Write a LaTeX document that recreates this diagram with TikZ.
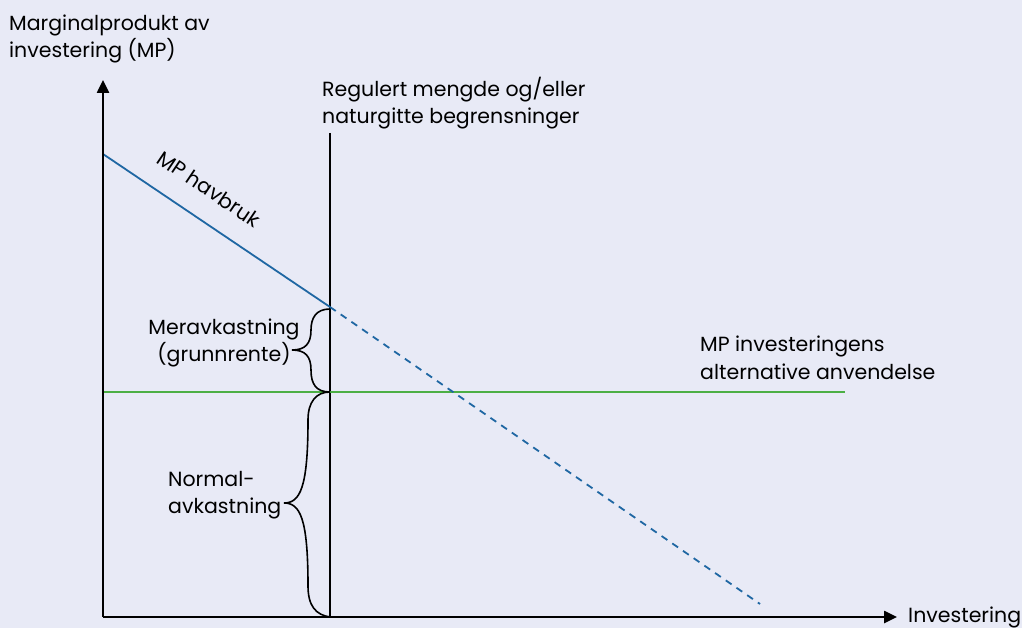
\documentclass[tikz,border=0pt]{standalone}
\usepackage{fontspec}
\setmainfont{Poppins}
\usetikzlibrary{arrows.meta}
\definecolor{bg}{HTML}{E8EAF6}
\definecolor{mpblue}{HTML}{1F67A3}
\definecolor{mpgreen}{HTML}{4CAF45}
\begin{document}
\begin{tikzpicture}[x=1pt,y=-1pt,
  font=\fontsize{20.5}{27.5}\selectfont,
  lbl/.style={align=left,inner sep=0pt,anchor=west},
  axis/.style={line width=2.5pt,-{Triangle[length=13pt,width=12pt]}},
  bracepath/.style={line width=1.6pt},
  limitline/.style={line width=1.5pt},
  mpline/.style={mpblue,line width=1.8pt},
  altline/.style={mpgreen,line width=2.6pt}]
\fill[bg] (0,0) rectangle (1022,628);
\useasboundingbox (0,0) rectangle (1022,628);

\coordinate (O) at (103,617);
\coordinate (ytop) at (103,80);
\coordinate (xend) at (897,617);
\coordinate (ltop) at (330,133);
\coordinate (lbot) at (330,617);
\coordinate (mpstart) at (103,154);
\coordinate (mpcut) at (330,307);
\coordinate (mpend) at (760,604);
\coordinate (altstart) at (103,392);
\coordinate (altend) at (845,392);
\coordinate (cross) at (330,392);

% lines
\draw[limitline] (ltop) -- (lbot);
\draw[altline] (altstart) -- (altend);
\draw[mpline] (mpstart) -- (mpcut);
\draw[mpline,dash pattern=on 7pt off 6pt] (mpcut) -- (mpend);
\draw[axis] (O) -- (ytop);
\draw[axis] (O) -- (xend);

% braces
\draw[bracepath] (330,309) .. controls (316,309) and (311,318) .. (311,330)
  .. controls (311,344) and (305,350) .. (292,350)
  .. controls (305,350) and (311,356) .. (311,370)
  .. controls (311,384) and (316,392) .. (cross);
\draw[bracepath] (cross) .. controls (316,392) and (308,402) .. (308,420)
  .. controls (308,488) and (300,503) .. (284,503)
  .. controls (300,503) and (308,518) .. (308,586)
  .. controls (308,606) and (316,615) .. (lbot);

% labels
\node[lbl] (ylab) at (9,39) {Marginalprodukt av\\investering (MP)};
\node[lbl] (xlab) at (908,617) {Investering};
\node[lbl] (limlab) at (322,103) {Regulert mengde og/eller\\naturgitte begrensninger};
\node[lbl] (altlab) at (700,358) {MP investeringens\\alternative anvendelse};
\node[align=center,inner sep=0pt] (merlab) at (224,343) {Meravkastning\\(grunnrente)};
\node[lbl] (normlab) at (168,495) {Normal-\\avkastning};
\node[inner sep=0pt,rotate=-34] (mplab) at (209,189) {MP havbruk};
\end{tikzpicture}
\end{document}
